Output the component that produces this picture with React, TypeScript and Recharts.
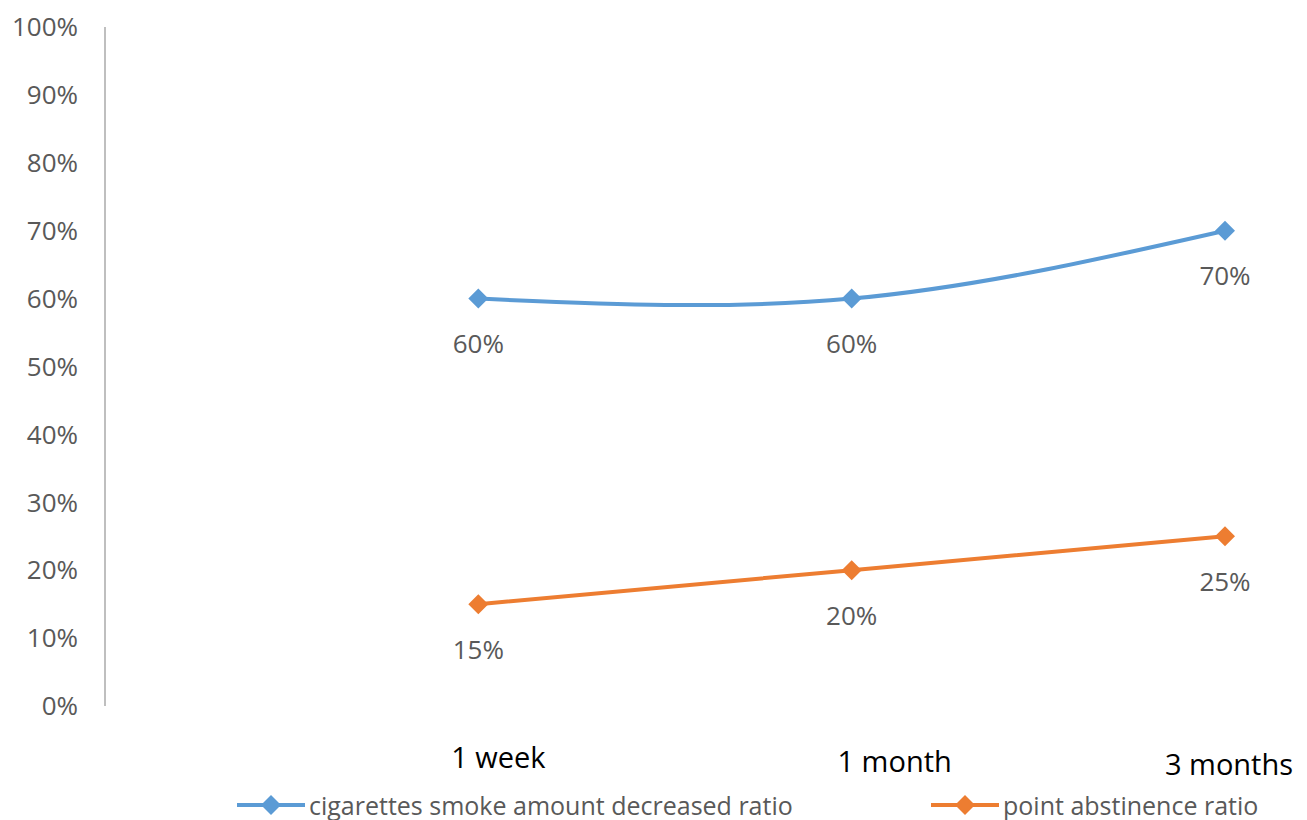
import React from 'react';
import { LineChart, Line, XAxis, YAxis, LabelList, Legend } from 'recharts';

// leading blank category mirrors the empty slot next to the y axis
const categories = ['', '1 week', '1 month', '3 months'];
const smokeDecreased = [null, 60, 60, 70];
const pointAbstinence = [null, 15, 20, 25];
const yTicks = [0, 10, 20, 30, 40, 50, 60, 70, 80, 90, 100];

const BLUE = '#5B9BD5';
const ORANGE = '#ED7D31';
const GRAY = '#595959';
const FONT = '"Open Sans", "Noto Sans", sans-serif';

const data = categories.map((name, i) => ({
  name,
  smoke: smokeDecreased[i],
  abstinence: pointAbstinence[i],
}));

// eslint-disable-next-line @typescript-eslint/no-explicit-any
const Diamond = (color: string) => (props: any) => {
  const { cx, cy, index } = props;
  if (cx == null || cy == null || props.value == null) return <g key={index} />;
  const r = 10;
  return (
    <polygon
      key={index}
      points={`${cx},${cy - r} ${cx + r},${cy} ${cx},${cy + r} ${cx - r},${cy}`}
      fill={color}
    />
  );
};

// the source picture has its category labels slightly shifted
const tickShift: Record<string, { dx: number; dy: number }> = {
  '1 week': { dx: 20, dy: 0 },
  '1 month': { dx: 43, dy: 4 },
  '3 months': { dx: 4, dy: 7 },
};

// eslint-disable-next-line @typescript-eslint/no-explicit-any
const CategoryTick = (props: any) => {
  const { x, y, payload } = props;
  const s = tickShift[payload.value] || { dx: 0, dy: 0 };
  return (
    <text x={x + s.dx} y={y + 42 + s.dy} textAnchor="middle" dominantBaseline="central" fill="#000" fontSize={29} fontFamily={FONT}>
      {payload.value}
    </text>
  );
};

const LegendItem: React.FC<{ color: string; label: string; left: number }> = ({ color, label, left }) => (
  <div style={{ position: 'absolute', left, top: 16, display: 'flex', alignItems: 'center', height: 26, lineHeight: '26px' }}>
    <svg width={70} height={24}>
      <line x1={1} y1={12} x2={69} y2={12} stroke={color} strokeWidth={4} />
      <polygon points="35,2 45,12 35,22 25,12" fill={color} />
    </svg>
    <span style={{ fontFamily: FONT, fontSize: 25, color: GRAY, marginLeft: 3, whiteSpace: 'nowrap' }}>{label}</span>
  </div>
);

const BottomLegend = () => (
  <div style={{ position: 'relative', width: 1307, height: 44 }}>
    <LegendItem color={BLUE} label="cigarettes smoke amount decreased ratio" left={236} />
    <LegendItem color={ORANGE} label="point abstinence ratio" left={930} />
  </div>
);

const pct = (v: number) => (v == null ? '' : `${v}%`);

export default function App() {
  return (
    <div style={{ position: 'absolute', left: 0, top: 0, width: 1307, height: 820, background: '#fff' }}>
      <LineChart width={1307} height={820} data={data} margin={{ top: 27, right: 82, bottom: 0, left: 0 }}>
        <XAxis dataKey="name" axisLine={false} tickLine={false} height={70} interval={0} tick={<CategoryTick />} />
        <YAxis
          domain={[0, 100]}
          ticks={yTicks}
          width={105}
          tickFormatter={(v: number) => `${v}%`}
          axisLine={{ stroke: '#BFBFBF', strokeWidth: 2 }}
          tickLine={false}
          tick={{ fill: GRAY, fontSize: 26, fontFamily: FONT, dx: -19 }}
        />
        <Legend verticalAlign="bottom" wrapperStyle={{ height: 44 }} content={<BottomLegend />} />
        <Line
          type="natural"
          dataKey="smoke"
          stroke={BLUE}
          strokeWidth={4}
          dot={Diamond(BLUE)}
          activeDot={false}
          isAnimationActive={false}
        >
          <LabelList dataKey="smoke" position="bottom" offset={36} formatter={pct} fill={GRAY} fontSize={26} fontFamily={FONT} />
        </Line>
        <Line
          type="linear"
          dataKey="abstinence"
          stroke={ORANGE}
          strokeWidth={4}
          dot={Diamond(ORANGE)}
          activeDot={false}
          isAnimationActive={false}
        >
          <LabelList dataKey="abstinence" position="bottom" offset={36} formatter={pct} fill={GRAY} fontSize={26} fontFamily={FONT} />
        </Line>
      </LineChart>
    </div>
  );
}
